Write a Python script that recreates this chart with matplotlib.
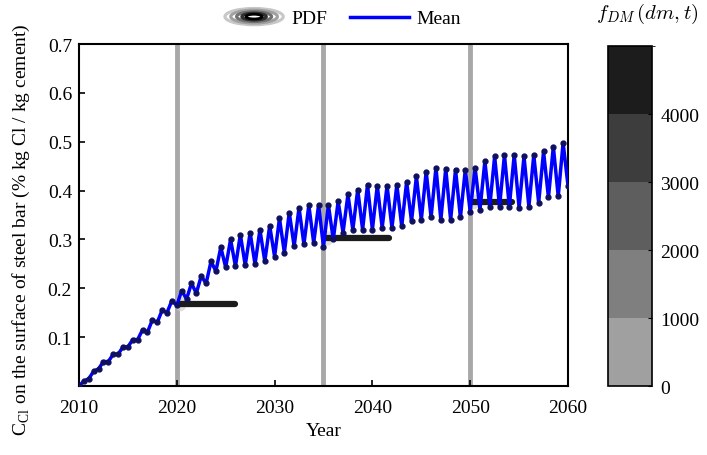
import numpy as np
import matplotlib
matplotlib.use("Agg")
import matplotlib.pyplot as plt
from matplotlib.colors import ListedColormap, BoundaryNorm
from matplotlib.cm import ScalarMappable
from matplotlib.patches import Ellipse
from matplotlib.legend_handler import HandlerBase
from matplotlib.lines import Line2D

plt.rcParams['font.family'] = ['Liberation Serif', 'DejaVu Serif']
plt.rcParams['mathtext.fontset'] = 'cm'

# yearly low (start of year) and high (mid year) values of the mean curve
years = list(range(2010, 2060))
trough = [0.000, 0.015, 0.035, 0.050, 0.065, 0.080, 0.095, 0.110, 0.130, 0.150,
          0.165, 0.178, 0.190, 0.210, 0.235, 0.243, 0.245, 0.247, 0.249, 0.255,
          0.265, 0.273, 0.286, 0.290, 0.293, 0.285, 0.300, 0.314, 0.320, 0.320,
          0.320, 0.324, 0.324, 0.327, 0.337, 0.340, 0.345, 0.340, 0.340, 0.345,
          0.357, 0.361, 0.367, 0.367, 0.367, 0.365, 0.367, 0.375, 0.386, 0.388]
peak = [0.010, 0.030, 0.050, 0.065, 0.080, 0.095, 0.115, 0.135, 0.155, 0.175,
        0.195, 0.210, 0.225, 0.255, 0.284, 0.300, 0.310, 0.314, 0.320, 0.328,
        0.343, 0.355, 0.365, 0.370, 0.371, 0.371, 0.378, 0.392, 0.402, 0.412,
        0.410, 0.410, 0.412, 0.418, 0.429, 0.439, 0.447, 0.445, 0.443, 0.443,
        0.447, 0.460, 0.470, 0.473, 0.473, 0.470, 0.473, 0.480, 0.490, 0.498]
end_value = 0.41

# PDF snapshots
pdf_year = [2020, 2035, 2050]
pdf_level = [0.168, 0.302, 0.377]
pdf_reach = [2026.0, 2041.7, 2054.3]

cb_bounds = [0, 1000, 2000, 3000, 4000, 5000]
cb_colors = ['#a0a0a0', '#7f7f7f', '#5e5e5e', '#3d3d3d', '#1c1c1c']

t = []
v = []
for y, lo, hi in zip(years, trough, peak):
    t += [y, y + 0.5]
    v += [lo, hi]
t.append(2060)
v.append(end_value)

fig = plt.figure(figsize=(7.07, 4.56), dpi=100)
ax = fig.add_axes([0.1117, 0.1513, 0.6917, 0.75])
cax = fig.add_axes([0.86, 0.1513, 0.062, 0.7456])

for yr in pdf_year:
    ax.axvline(yr, color='#a8a8a8', lw=3.5, zorder=1)

for yr, lev, reach in zip(pdf_year, pdf_level, pdf_reach):
    ax.add_patch(Ellipse((yr + 0.4, lev), 1.2, 0.03, color='#d0d0d0', alpha=0.7, lw=0, zorder=2))
    ax.plot([yr + 0.3, reach], [lev, lev], color='#1c1c1c', lw=4.5, solid_capstyle='round', zorder=3)

ax.plot(t, v, color='#0000ff', lw=2.5, marker='o', ms=3.5, mfc='#101060', mec='#101060', zorder=4)

ax.set_xlim(2010, 2060)
ax.set_ylim(0, 0.7)
ax.set_xticks([2010, 2020, 2030, 2040, 2050, 2060])
ax.set_yticks([0.1, 0.2, 0.3, 0.4, 0.5, 0.6, 0.7])
ax.set_yticklabels(['0.1', '0.2', '0.3', '0.4', '0.5', '0.6', '0.7'])
ax.tick_params(direction='in', labelsize=14, length=4, width=1.2, pad=5)
ax.tick_params(axis='x', pad=9)
for s in ax.spines.values():
    s.set_linewidth(1.5)
ax.set_xlabel('Year', fontsize=14, labelpad=5)
ax.set_ylabel(r'C$_{\mathregular{Cl}}$ on the surface of steel bar (% kg Cl / kg cement)', fontsize=14)
ax.yaxis.set_label_coords(-0.097, 0.46)


class PDFHandler(HandlerBase):
    def create_artists(self, legend, orig_handle, xd, yd, width, height, fontsize, trans):
        cx = width / 2 - xd
        cy = height / 2 - yd
        arts = []
        for sc, col in [(1.0, '#c8c8c8'), (0.8, '#a0a0a0'), (0.6, '#707070'), (0.42, '#303030')]:
            e = Ellipse((cx, cy), width * sc, height * 1.2 * sc, facecolor='none', edgecolor=col, lw=2.2,
                        transform=trans)
            arts.append(e)
        e = Ellipse((cx, cy), width * 0.28, height * 0.35, facecolor='white', edgecolor='black', lw=2,
                    transform=trans)
        arts.append(e)
        return arts


pdf_handle = Line2D([], [])
mean_handle = Line2D([], [], color='#0000ff', lw=2.5)
fig.legend([pdf_handle, mean_handle], ['PDF', 'Mean'], handler_map={pdf_handle: PDFHandler()},
           loc='center', bbox_to_anchor=(0.485, 0.957), ncol=2, frameon=False, fontsize=14,
           handlelength=3.0, columnspacing=1.2, handletextpad=0.4)

cmap = ListedColormap(cb_colors)
norm = BoundaryNorm(cb_bounds, cmap.N)
cb = fig.colorbar(ScalarMappable(norm=norm, cmap=cmap), cax=cax, ticks=[0, 1000, 2000, 3000, 4000])
cb.ax.tick_params(direction='in', labelsize=14, length=3, pad=6)
cb.outline.set_linewidth(1.2)
cax.set_title(r'$f_{DM}\,(dm,t)$', fontsize=15, pad=20, x=0.9)

fig.savefig('out.png', dpi=100)
